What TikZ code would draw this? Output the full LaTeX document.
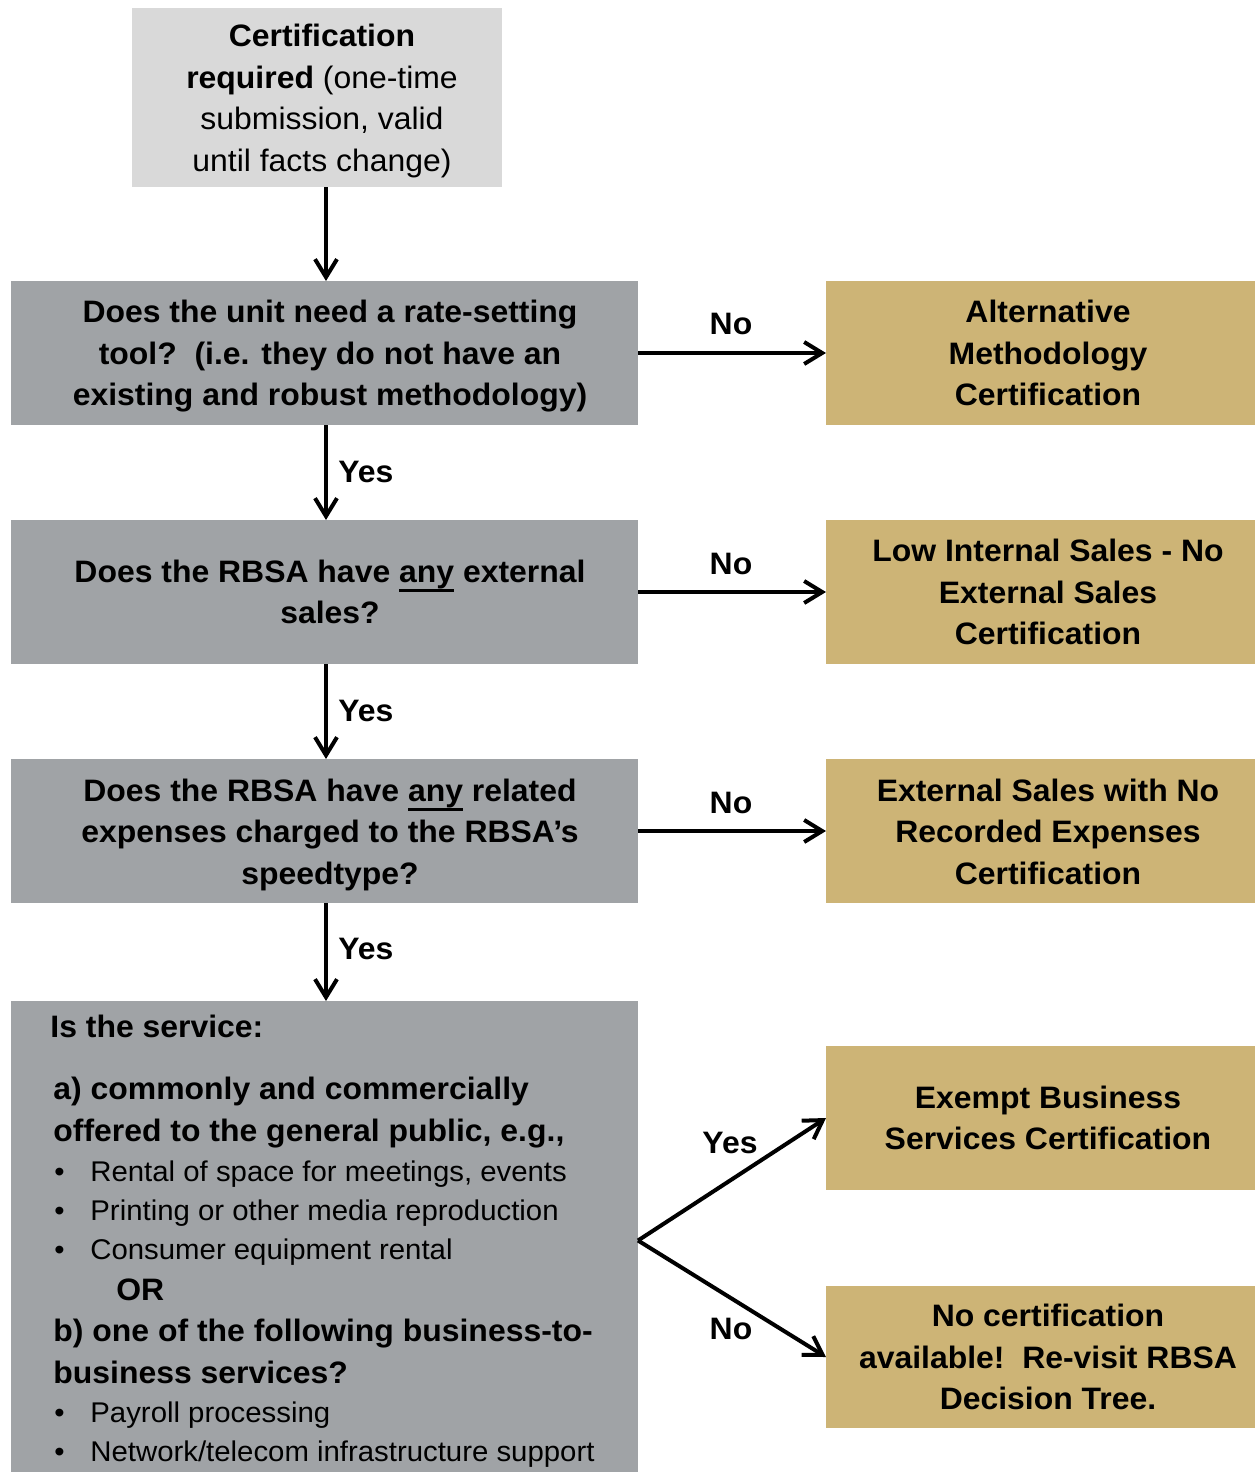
\documentclass[tikz,border=0pt]{standalone}
\usepackage{fontspec}
\setmainfont{Liberation Sans}[FakeStretch=1.03]
\usetikzlibrary{arrows.meta}
\definecolor{lgray}{HTML}{D9D9D9}
\definecolor{mgray}{HTML}{A0A3A6}
\definecolor{gold}{HTML}{CDB476}
\newcommand\myul[1]{\setbox0\hbox{#1}\rlap{\rule[-5pt]{\wd0}{1.5pt}}\box0\relax}
\begin{document}
\begin{tikzpicture}[x=0.5pt,y=-0.5pt,
  boxnode/.style={draw=none, inner sep=0pt, outer sep=0pt},
  qbox/.style={boxnode, fill=mgray, minimum width=313.5pt, minimum height=72pt},
  rbox/.style={boxnode, fill=gold, minimum width=222pt, minimum height=72pt},
  btext/.style={inner sep=0pt, align=center, font=\fontsize{15.5}{20.75}\selectfont\bfseries},
  ntext/.style={inner sep=0pt, align=center, font=\fontsize{15.5}{20.75}\selectfont},
  ltext/.style={inner sep=0pt, anchor=base west, font=\fontsize{15.5}{20.75}\selectfont\bfseries},
  itext/.style={inner sep=0pt, anchor=base west, font=\fontsize{14.25}{19.5}\selectfont},
  lab/.style={inner sep=0pt, font=\fontsize{15.5}{20.75}\selectfont\bfseries},
  arr/.style={line width=2pt, -{Straight Barb[length=9pt,width=11pt]}}]
\useasboundingbox (0,0) rectangle (1254,1472);
% boxes
\node[boxnode, fill=lgray, minimum width=185pt, minimum height=89.5pt] (top) at (317,97.5) {};
\node[qbox] (q1) at (324.5,353) {};
\node[qbox] (q2) at (324.5,592) {};
\node[qbox] (q3) at (324.5,831) {};
\node[boxnode, fill=mgray, minimum width=313.5pt, minimum height=239.5pt] (q4) at (324.5,1240.5) {};
\node[rbox] (r1) at (1048,353) {};
\node[rbox] (r2) at (1048,592) {};
\node[rbox] (r3) at (1048,831) {};
\node[rbox] (r4) at (1048,1118) {};
\node[rbox, minimum height=71pt] (r5) at (1048,1357) {};
% texts
\node[ntext] (ttop) at (322,101) {\textbf{Certification}\\\textbf{required} (one-time\\submission, valid\\until facts change)};
\node[btext] (tq1) at (330,356.5) {Does the unit need a rate-setting\\tool?\ \ (i.e. they do not have an\\existing and robust methodology)};
\node[btext] (tq2) at (330,592) {Does the RBSA have \myul{any} external\\sales?};
\node[btext] (tq3) at (330,834.5) {Does the RBSA have \myul{any} related\\expenses charged to the RBSA’s\\speedtype?};
\node[btext] (tr1) at (1048,353) {Alternative\\Methodology\\Certification};
\node[btext] (tr2) at (1048,592) {Low Internal Sales - No\\External Sales\\Certification};
\node[btext] (tr3) at (1048,831.5) {External Sales with No\\Recorded Expenses\\Certification};
\node[btext] (tr4) at (1048,1118) {Exempt Business\\Services Certification};
\node[btext] (tr5) at (1048,1357) {No certification\\available!\ \ Re-visit RBSA\\Decision Tree.};
% Q4 content
\node[ltext] (s0) at (50,1037) {Is the service:};
\node[ltext] (sa1) at (53,1099) {a) commonly and commercially};
\node[ltext] (sa2) at (53,1141) {offered to the general public, e.g.,};
\node[itext] (ba1) at (54,1181) {•};
\node[itext] (ia1) at (90,1181) {Rental of space for meetings, events};
\node[itext] (ba2) at (54,1220) {•};
\node[itext] (ia2) at (90,1220) {Printing or other media reproduction};
\node[itext] (ba3) at (54,1259) {•};
\node[itext] (ia3) at (90,1259) {Consumer equipment rental};
\node[ltext] (sor) at (116,1300) {OR};
\node[ltext] (sb1) at (53,1341) {b) one of the following business-to-};
\node[ltext] (sb2) at (53,1383) {business services?};
\node[itext] (bb1) at (54,1422) {•};
\node[itext] (ib1) at (90,1422) {Payroll processing};
\node[itext] (bb2) at (54,1461) {•};
\node[itext] (ib2) at (90,1461) {Network/telecom infrastructure support};
% connectors
\coordinate (ax) at (326,0);
\draw[arr] (top.south -| ax) -- (q1.north -| ax);
\draw[arr] (q1.south -| ax) -- (q2.north -| ax);
\draw[arr] (q2.south -| ax) -- (q3.north -| ax);
\draw[arr] (q3.south -| ax) -- (q4.north -| ax);
\draw[arr] (q1.east) -- (r1.west);
\draw[arr] (q2.east) -- (r2.west);
\draw[arr] (q3.east) -- (r3.west);
\draw[arr] (q4.east) -- (r4.west);
\draw[arr] (q4.east) -- (r5.west);
% labels
\node[lab, anchor=west] (y1) at (338,472) {Yes};
\node[lab, anchor=west] (y2) at (338,711) {Yes};
\node[lab, anchor=west] (y3) at (338,949) {Yes};
\node[lab] (n1) at (731,324) {No};
\node[lab] (n2) at (731,564) {No};
\node[lab] (n3) at (731,803) {No};
\node[lab] (y4) at (730,1143) {Yes};
\node[lab] (n4) at (731,1329) {No};
\end{tikzpicture}
\end{document}
